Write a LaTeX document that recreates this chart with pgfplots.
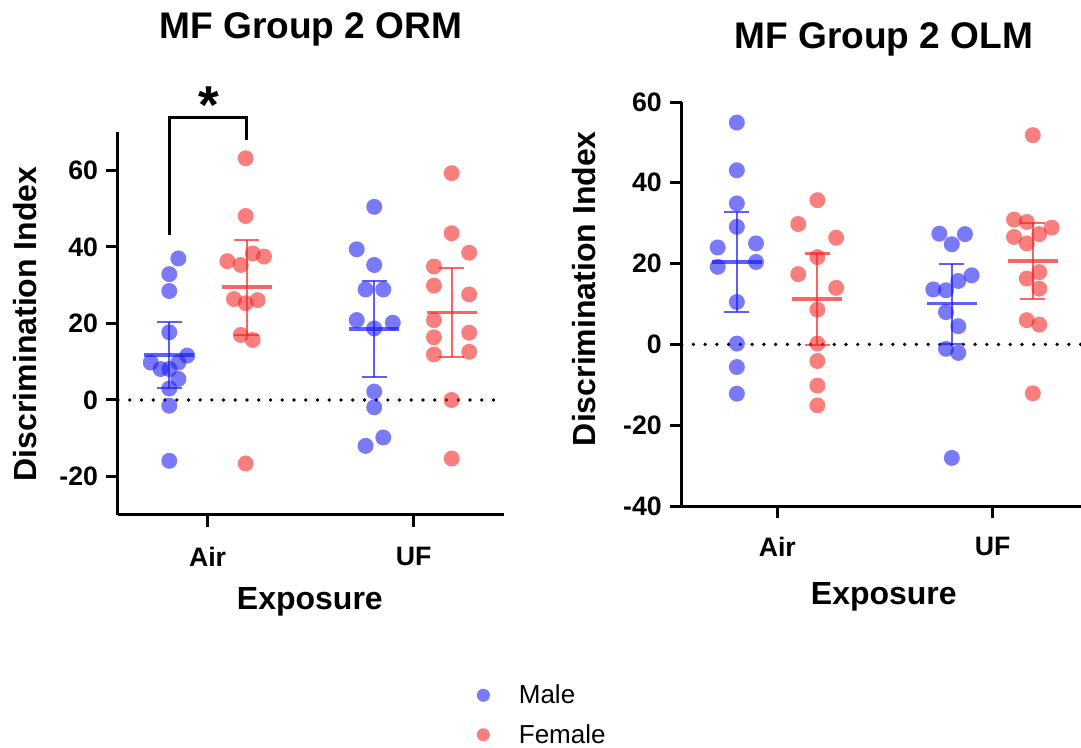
\documentclass[border=0pt]{standalone}
\usepackage{pgfplots}
\pgfplotsset{compat=1.18}
\usepackage{fontspec}
\setmainfont{Liberation Sans}
\definecolor{mblue}{RGB}{25,25,245}
\definecolor{fred}{RGB}{245,35,35}

\pgfplotstableread{
x y
0.858 37.0
0.814 32.9
0.814 28.5
0.814 17.7
0.901 11.6
0.724 9.8
0.858 9.8
0.772 8.1
0.814 8.1
0.858 5.5
0.814 3.0
0.814 -1.5
0.814 -15.9
1.809 50.5
1.724 39.4
1.809 35.3
1.767 28.9
1.853 28.9
1.724 20.9
1.899 20.2
1.809 18.7
1.809 2.2
1.809 -1.9
1.853 -9.8
1.767 -12.0
}\ormmale

\pgfplotstableread{
x y
1.185 63.2
1.185 48.1
1.219 38.3
1.274 37.5
1.096 36.3
1.161 35.3
1.128 26.4
1.185 25.3
1.243 26.1
1.161 17.0
1.219 15.7
1.185 -16.6
2.185 59.3
2.185 43.6
2.270 38.5
2.099 34.9
2.099 29.9
2.270 27.6
2.099 20.9
2.099 16.4
2.270 17.6
2.099 11.9
2.270 12.6
2.185 0.0
2.185 -15.3
}\ormfemale

\pgfplotstableread{
x y
0.812 54.9
0.812 43.1
0.812 34.9
0.812 29.1
0.723 24.0
0.901 25.0
0.723 19.2
0.901 20.4
0.812 10.5
0.812 0.2
0.812 -5.6
0.812 -12.2
1.752 27.4
1.871 27.3
1.810 24.8
1.902 17.1
1.840 15.7
1.724 13.6
1.783 13.4
1.783 8.0
1.840 4.5
1.783 -1.1
1.840 -2.1
1.810 -28.1
}\olmmale

\pgfplotstableread{
x y
1.186 35.7
1.097 29.8
1.273 26.4
1.186 21.6
1.097 17.4
1.273 14.0
1.186 8.6
1.186 0.2
1.186 -4.1
1.186 -10.2
1.186 -15.1
2.186 51.8
2.099 30.9
2.158 30.3
2.274 28.9
2.099 26.6
2.216 27.3
2.158 25.0
2.216 17.9
2.158 16.3
2.216 13.8
2.158 6.0
2.216 4.9
2.186 -12.1
}\olmfemale

\pgfplotsset{
  myax/.style={
    scale only axis, clip=false,
    axis x line=bottom, axis y line=left,
    axis line style={-, line width=2.25pt, black},
    tick style={line width=2.25pt, black},
    major tick length=9pt, tick align=outside,
    xtick={1,2}, xticklabels={Air,UF},
    ticklabel style={font=\fontsize{20}{20}\selectfont\bfseries},
    yticklabel style={xshift=-2.5pt},
    /pgf/number format/assume math mode=true,
    label style={font=\fontsize{24}{24}\selectfont\bfseries},
    title style={font=\fontsize{27.8}{27.8}\selectfont\bfseries},
    xlabel={Exposure}, ylabel={Discrimination Index},
  },
  malepts/.style={only marks, mark=*, mark size=6pt,
    mark options={draw=mblue, draw opacity=0, fill=mblue, fill opacity=0.58}},
  femalepts/.style={only marks, mark=*, mark size=6pt,
    mark options={draw=fred, draw opacity=0, fill=fred, fill opacity=0.58}},
  meanbar/.style={#1, opacity=0.7, only marks, mark=-, mark size=18.75pt,
    mark options={line width=2.6pt},
    /pgfplots/error bars/y dir=both, /pgfplots/error bars/y explicit,
    /pgfplots/error bars/error bar style={line width=1.6pt, #1},
    /pgfplots/error bars/error mark options={rotate=90, mark size=9.4pt, line width=1.6pt, #1}},
  zeroline/.style={black, line width=2.8pt, line cap=round, dash pattern=on 0pt off 8.8pt},
}

\begin{document}
\begin{tikzpicture}
\path[use as bounding box] (0pt,0pt) rectangle (810.75pt,-561pt);

% ---------------- Left: ORM ----------------
\begin{axis}[myax,
  at={(88.5pt,-386.06pt)}, anchor=south west,
  width=289.5pt, height=286.875pt,
  xmin=0.565, xmax=2.439, ymin=-30, ymax=70,
  ytick={-20,0,20,40,60},
  xticklabel style={yshift=-12pt},
  title={MF Group 2 ORM},
  title style={at={(axis description cs:0.5,1.223)}, anchor=base},
  xlabel style={at={(axis description cs:0.497,-0.249)}, anchor=base},
  ylabel style={at={(axis description cs:-0.212,0.499)}, anchor=base},
  legend style={at={(axis description cs:0.929,-0.437)}, anchor=north west,
    draw=none, fill=none, inner sep=0pt, row sep=10pt,
    font=\fontsize{19.5}{19.5}\selectfont, cells={anchor=west}},
  legend image code/.code={\path[#1] (4.9pt,0pt) circle (4.9pt); \path (0pt,0pt) (29.5pt,0pt);},
]
\addlegendimage{draw=none, fill=mblue, fill opacity=0.58}
\addlegendentry{Male}
\addlegendimage{draw=none, fill=fred, fill opacity=0.58}
\addlegendentry{Female}
\addplot[forget plot, zeroline] coordinates {(0.565,0) (2.439,0)};
\addplot[forget plot, malepts] table {\ormmale};
\addplot[forget plot, femalepts] table {\ormfemale};
\addplot[forget plot, meanbar=mblue] coordinates {(0.814,11.8) +- (0,8.7) (1.809,18.5) +- (0,12.6)};
\addplot[forget plot, meanbar=fred] coordinates {(1.19,29.5) +- (0,12.4) (2.185,22.9) +- (0,11.7)};
\addplot[forget plot, black, line width=2.25pt, line join=miter] coordinates {(0.815,43.1) (0.815,73.8) (1.19,73.8) (1.19,68)};
\node[font=\fontsize{40}{40}\selectfont\bfseries, inner sep=0pt, anchor=north] at (axis cs:1.005,82.0) {*};
\end{axis}

% ---------------- Right: OLM ----------------
\begin{axis}[myax,
  at={(511.28pt,-379.5pt)}, anchor=south west,
  width=305.0pt, height=303pt,
  xmin=0.556, xmax=2.444, ymin=-40, ymax=60,
  ytick={-40,-20,0,20,40,60},
  xticklabel style={yshift=-11pt},
  title={MF Group 2 OLM},
  title style={at={(axis description cs:0.497,1.113)}, anchor=base},
  xlabel style={at={(axis description cs:0.497,-0.243)}, anchor=base},
  ylabel style={at={(axis description cs:-0.211,0.538)}, anchor=base},
]
\addplot[zeroline] coordinates {(0.556,0) (2.444,0)};
\addplot[malepts] table {\olmmale};
\addplot[femalepts] table {\olmfemale};
\addplot[meanbar=mblue] coordinates {(0.812,20.4) +- (0,12.4) (1.81,10.1) +- (0,9.9)};
\addplot[meanbar=fred] coordinates {(1.186,11.2) +- (0,11.3) (2.186,20.6) +- (0,9.4)};
\end{axis}
\end{tikzpicture}
\end{document}
